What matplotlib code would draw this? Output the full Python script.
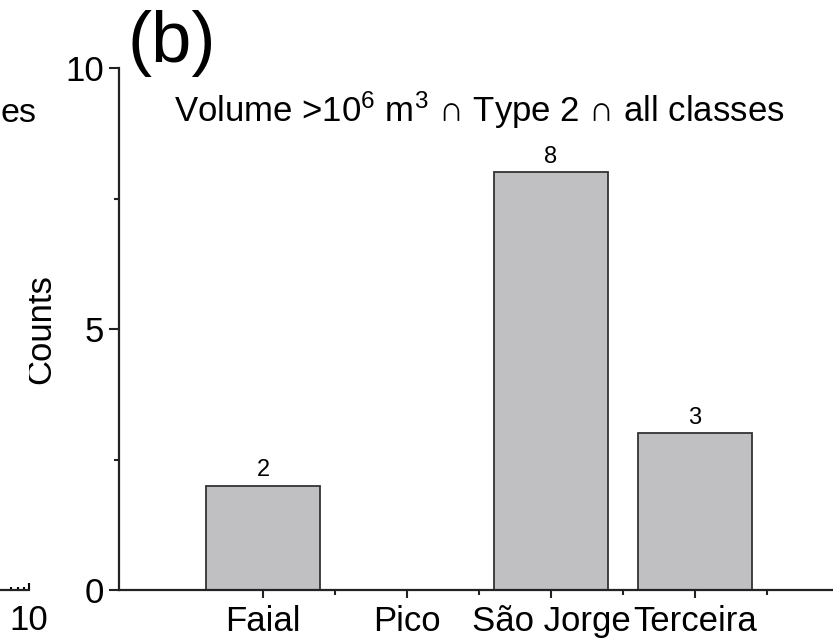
import numpy as np
import matplotlib
matplotlib.use("Agg")
import matplotlib.pyplot as plt
from matplotlib.ticker import FixedLocator, NullFormatter

plt.rcParams['font.family'] = ['Liberation Sans', 'DejaVu Sans']
plt.rcParams['mathtext.fontset'] = 'custom'
plt.rcParams['mathtext.rm'] = 'Liberation Sans'
plt.rcParams['mathtext.default'] = 'regular'

# data
islands = ['Faial', 'Pico', 'São Jorge', 'Terceira']
counts = [2, 0, 8, 3]
title = 'Volume >10$^{6}$ m$^{3}$ \u2229 Type 2 \u2229 all classes'

W, H = 833, 644
fig = plt.figure(figsize=(W / 100, H / 100), dpi=100)

# main panel (b)
ax = fig.add_axes([119 / W, 1 - 590 / H, (839 - 119) / W, (590 - 68) / H])
x = np.arange(1, len(islands) + 1)
bars = ax.bar(x, counts, width=0.79, color='#c0c0c3', edgecolor='#333333', linewidth=1.3)
labels = [str(c) if c > 0 else '' for c in counts]
ax.bar_label(bars, labels=labels, padding=3, fontsize=17)

ax.set_xlim(0, 5)
ax.set_ylim(0, 10)
ax.set_xticks(x)
ax.set_xticklabels(islands, fontsize=25)
ax.xaxis.set_minor_locator(FixedLocator(x + 0.5))
ax.set_yticks([0, 5, 10])
ax.yaxis.set_minor_locator(FixedLocator([2.5, 7.5]))
ax.tick_params(axis='y', which='major', length=7, width=1.5, labelsize=25, color='#222222')
ax.tick_params(axis='x', which='major', length=6, width=1.5, labelsize=25, color='#222222', pad=5)
ax.tick_params(axis='both', which='minor', length=3.5, width=1.5, color='#222222')
for s in ['top', 'right']:
    ax.spines[s].set_visible(False)
for s in ['left', 'bottom']:
    ax.spines[s].set_linewidth(1.6)
    ax.spines[s].set_color('#222222')
ax.set_ylabel('Counts', fontsize=25, labelpad=6)

ax.text(2.5, 9.2, title, fontsize=25, ha='center', va='center')
fig.text(128 / W, 1 - 62 / H, '(b)', fontsize=52, ha='left', va='baseline')

# edge of neighbouring panel (a), cut off by the crop
ax_a = fig.add_axes([-200 / W, 1 - 590 / H, 229 / W, (590 - 68) / H])
ax_a.set_xscale('log')
ax_a.set_xlim(0.1, 10)
ax_a.set_ylim(0, 10)
ax_a.xaxis.set_major_locator(FixedLocator([10]))
ax_a.xaxis.set_minor_locator(FixedLocator([7, 8, 9]))
ax_a.xaxis.set_minor_formatter(NullFormatter())
ax_a.set_xticklabels(['10'], fontsize=25)
ax_a.tick_params(axis='x', which='major', direction='in', length=5, width=1.5, pad=10)
ax_a.tick_params(axis='x', which='minor', direction='in', length=2.5, width=1.5)
ax_a.set_yticks([])
for s in ['top', 'right', 'left']:
    ax_a.spines[s].set_visible(False)
ax_a.spines['bottom'].set_linewidth(1.6)
ax_a.spines['bottom'].set_color('#222222')
fig.text(0, 1 - 122 / H, 'es', fontsize=24.5, ha='left', va='baseline')

fig.savefig('out.png', dpi=100)
